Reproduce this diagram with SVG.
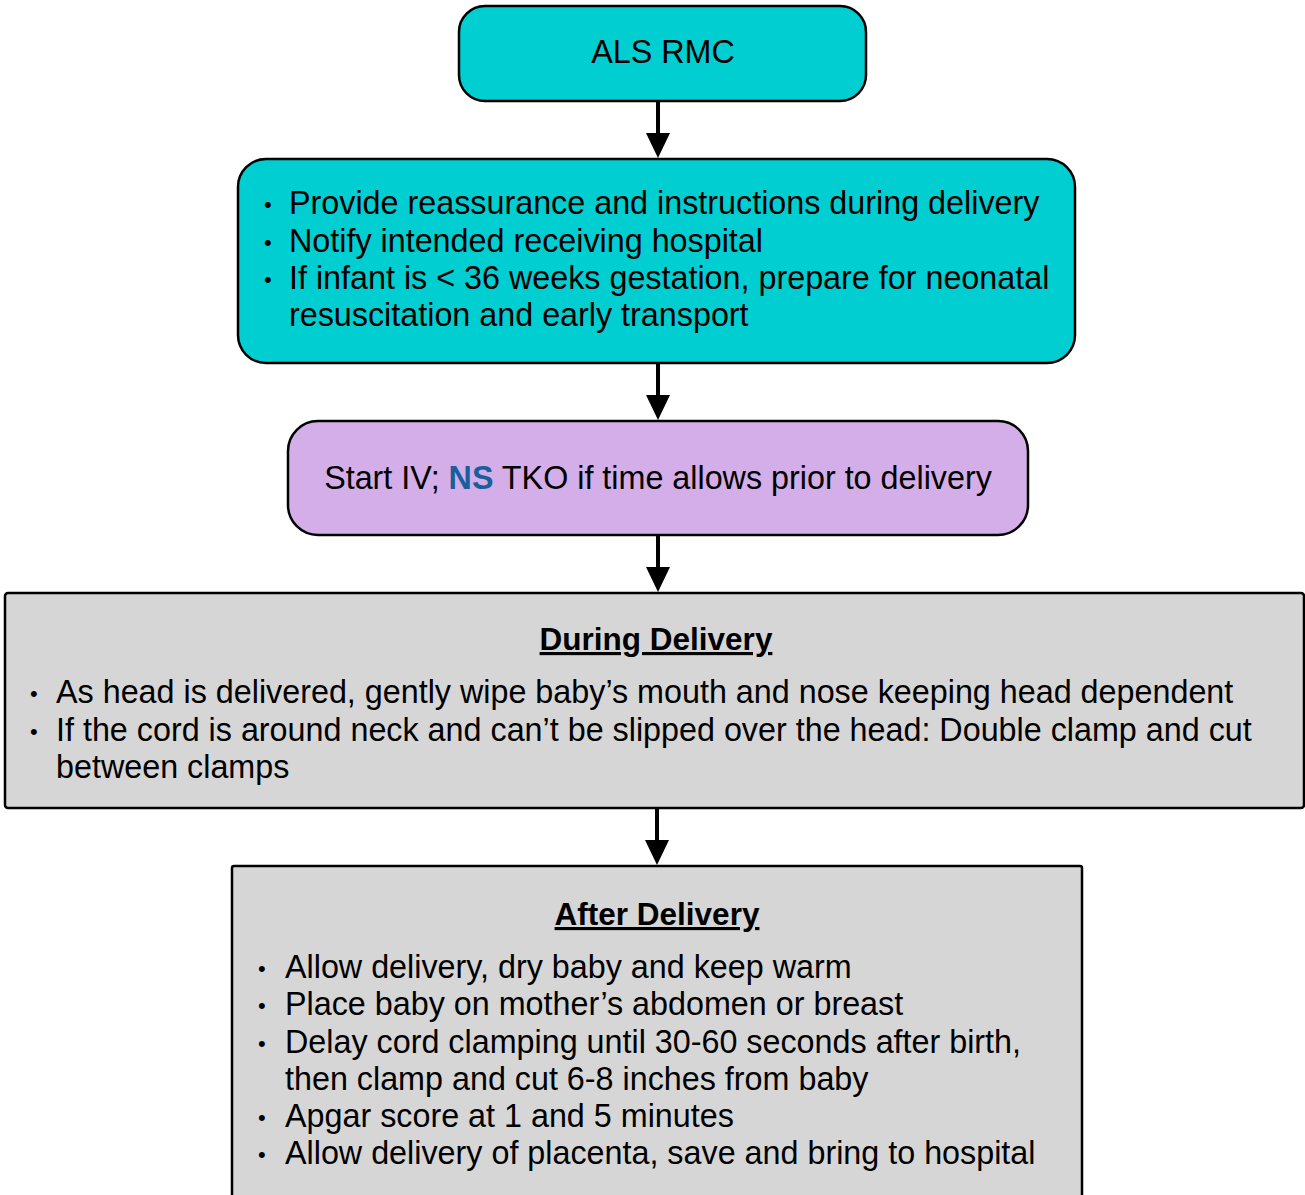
<svg xmlns="http://www.w3.org/2000/svg" width="1305" height="1195" viewBox="0 0 1305 1195">
<defs>
<style>
text{font-family:"Liberation Sans",Arial,Helvetica,sans-serif;font-size:32.3px;fill:#000}
.teal{fill:#00CED1;stroke:#000;stroke-width:2.5}
.lav{fill:#D4AEE8;stroke:#000;stroke-width:2.5}
.gray{fill:#D6D6D6;stroke:#000;stroke-width:2.5}
.c{text-anchor:middle}
.h{font-weight:bold;text-decoration:underline;font-size:31.5px}
.b{font-size:22px}
.conn{stroke:#000;stroke-width:4;fill:none}
.head{fill:#000}
</style>
</defs>
<rect width="1305" height="1195" fill="#fff"/>
<g id="connectors">
<line class="conn" x1="658" y1="101" x2="658" y2="136"/>
<path class="head" d="M646,133 L670,133 L658,158 Z"/>
<line class="conn" x1="658" y1="363" x2="658" y2="398"/>
<path class="head" d="M646,395 L670,395 L658,420 Z"/>
<line class="conn" x1="658" y1="535" x2="658" y2="570"/>
<path class="head" d="M646,567 L670,567 L658,592 Z"/>
<line class="conn" x1="657" y1="808" x2="657" y2="843"/>
<path class="head" d="M645,840 L669,840 L657,865 Z"/>
</g>
<g id="node-als-rmc">
<rect class="teal" x="459" y="6" width="407" height="95" rx="26"/>
<text class="c" x="663" y="63">ALS RMC</text>
</g>
<g id="node-provide">
<rect class="teal" x="238" y="159" width="837" height="204" rx="28"/>
<text class="b" x="264" y="212">•</text><text x="289" y="214">Provide reassurance and instructions during delivery</text>
<text class="b" x="264" y="250">•</text><text x="289" y="252">Notify intended receiving hospital</text>
<text class="b" x="264" y="287">•</text><text x="289" y="289">If infant is &lt; 36 weeks gestation, prepare for neonatal</text>
<text x="289" y="326">resuscitation and early transport</text>
</g>
<g id="node-start-iv">
<rect class="lav" x="288" y="421" width="740" height="114" rx="30"/>
<text class="c" x="658" y="489">Start IV; <tspan font-weight="bold" style="fill:#1A5E9A">NS</tspan> TKO if time allows prior to delivery</text>
</g>
<g id="node-during">
<rect class="gray" x="5" y="593" width="1299" height="215" rx="3"/>
<text class="c h" x="656" y="650">During Delivery</text>
<text class="b" x="30" y="701">•</text><text x="56" y="703">As head is delivered, gently wipe baby’s mouth and nose keeping head dependent</text>
<text class="b" x="30" y="739">•</text><text x="56" y="741">If the cord is around neck and can’t be slipped over the head: Double clamp and cut</text>
<text x="56" y="778">between clamps</text>
</g>
<g id="node-after">
<rect class="gray" x="232" y="866" width="850" height="340" rx="2"/>
<text class="c h" x="657" y="925">After Delivery</text>
<text class="b" x="258" y="976">•</text><text x="285" y="978">Allow delivery, dry baby and keep warm</text>
<text class="b" x="258" y="1013">•</text><text x="285" y="1015">Place baby on mother’s abdomen or breast</text>
<text class="b" x="258" y="1051">•</text><text x="285" y="1053">Delay cord clamping until 30-60 seconds after birth,</text>
<text x="285" y="1090">then clamp and cut 6-8 inches from baby</text>
<text class="b" x="258" y="1125">•</text><text x="285" y="1127">Apgar score at 1 and 5 minutes</text>
<text class="b" x="258" y="1162">•</text><text x="285" y="1164">Allow delivery of placenta, save and bring to hospital</text>
</g>
</svg>
